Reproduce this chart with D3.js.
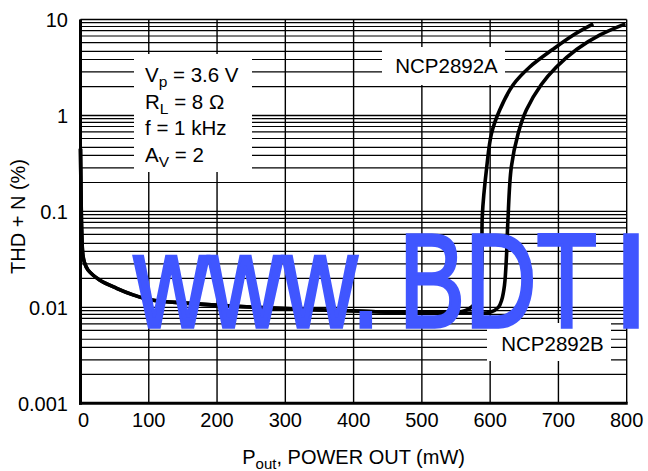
<!DOCTYPE html>
<html>
<head>
<meta charset="utf-8">
<script src="https://cdn.jsdelivr.net/npm/d3@7"></script>
<style>
  html, body { margin: 0; padding: 0; background: #fff; }
  svg { display: block; }
  text { font-family: "Liberation Sans", Arial, Helvetica, sans-serif; fill: #000; }
</style>
</head>
<body>
<svg id="chart" width="648" height="471"></svg>
<script>
// ---- data ----
const xTicks = [0, 100, 200, 300, 400, 500, 600, 700, 800];
const yTicks = [0.001, 0.01, 0.1, 1, 10];
const yTickLabels = ["0.001", "0.01", "0.1", "1", "10"];
const yDecades = [0.001, 0.01, 0.1, 1];
const minorGrid = [2.0, 2.84, 3.83, 4.65, 5.75, 6.73, 7.67, 8.45, 9.26];

// shared low-power part (both devices)
const sharedP   = [0, 0.8, 1.8, 3.5, 6, 11, 28, 53, 77, 102, 160, 258, 356, 453, 522, 545];
const sharedThd = [0.45, 0.15, 0.06, 0.035, 0.029, 0.0245, 0.0193, 0.0158, 0.0135, 0.012, 0.011, 0.0100, 0.0094, 0.0089, 0.0088, 0.0088];
// NCP2892A clipping branch
const aP   = [545, 566, 581, 586, 588, 588.5, 595, 602, 614, 634, 658, 692, 722, 751];
const aThd = [0.0088, 0.0094, 0.0118, 0.016, 0.03, 0.09, 0.29, 0.65, 1.14, 2.1, 3.2, 4.9, 6.9, 9.0];
// NCP2892B clipping branch
const bP   = [545, 600, 612, 617, 621, 624, 626, 631, 641, 653, 675, 697, 727, 761, 798];
const bThd = [0.0088, 0.0089, 0.0100, 0.012, 0.017, 0.035, 0.08, 0.29, 0.65, 1.14, 2.1, 3.2, 4.9, 6.9, 9.0];

const seriesNames = ["NCP2892A", "NCP2892B"];
const conditions = [
  ["V", "p", " = 3.6 V"],
  ["R", "L", " = 8 Ω"],
  ["f = 1 kHz", "", ""],
  ["A", "V", " = 2"]
];
const xTitle = ["P", "out", ", POWER OUT (mW)"];
const yTitle = "THD + N (%)";
const watermark = ["www.", "BDT", "I"];

// ---- layout ----
const svg = d3.select("#chart");
const L = 80.5, R = 626.7, T = 19.5, B = 403.3;
const x = d3.scaleLinear().domain([0, 800]).range([L, R]);
const y = d3.scaleLog().domain([0.001, 10]).range([B, T]);

const grid = svg.append("g");
const minorVals = [];
yDecades.forEach(d => minorGrid.forEach(m => minorVals.push(d * m)));
grid.selectAll("line.hmin").data(minorVals).enter().append("line")
  .attr("x1", L).attr("x2", R)
  .attr("y1", d => y(d)).attr("y2", d => y(d))
  .attr("stroke", "#000").attr("stroke-width", 1.2);
grid.selectAll("line.hmaj").data(yTicks).enter().append("line")
  .attr("x1", L).attr("x2", R)
  .attr("y1", d => y(d)).attr("y2", d => y(d))
  .attr("stroke", "#000").attr("stroke-width", 1.4);
grid.selectAll("line.v").data(xTicks).enter().append("line")
  .attr("x1", d => x(d)).attr("x2", d => x(d))
  .attr("y1", T).attr("y2", B)
  .attr("stroke", "#000").attr("stroke-width", 1.4);
svg.append("line").attr("x1", L).attr("x2", L).attr("y1", T).attr("y2", B + 1.5)
  .attr("stroke", "#000").attr("stroke-width", 3);
svg.append("line").attr("x1", L - 1.5).attr("x2", R + 1).attr("y1", B).attr("y2", B)
  .attr("stroke", "#000").attr("stroke-width", 3);

// tick labels
svg.selectAll("text.yt").data(yTicks).enter().append("text")
  .attr("x", 68).attr("y", d => y(d)).attr("dy", "0.36em")
  .attr("text-anchor", "end").attr("font-size", 20)
  .text((d, i) => yTickLabels[i]);
svg.selectAll("text.xt").data(xTicks).enter().append("text")
  .attr("x", d => x(d) + (d === 0 ? 3 : 0)).attr("y", 427)
  .attr("text-anchor", "middle").attr("font-size", 20)
  .text(d => d);

// axis titles
const xt = svg.append("text").attr("x", (L + R) / 2).attr("y", 463.5)
  .attr("text-anchor", "middle").attr("font-size", 20);
xt.append("tspan").text(xTitle[0]);
xt.append("tspan").attr("font-size", 15).attr("dy", 5).text(xTitle[1]);
xt.append("tspan").attr("dy", -5).text(xTitle[2]);
svg.append("text").attr("transform", "translate(25,216.5) rotate(-90)")
  .attr("text-anchor", "middle").attr("font-size", 20).text(yTitle);

// condition box
svg.append("rect").attr("x", 134).attr("y", 54).attr("width", 118).attr("height", 118).attr("fill", "#fff");
const condY = [82, 108.5, 135, 161.5];
conditions.forEach((c, i) => {
  const t = svg.append("text").attr("x", 145).attr("y", condY[i]).attr("font-size", 20.5);
  t.append("tspan").text(c[0]);
  if (c[1]) {
    t.append("tspan").attr("font-size", 15.5).attr("dy", 5).text(c[1]);
    t.append("tspan").attr("dy", -5).text(c[2]);
  }
});

// series label boxes
svg.append("rect").attr("x", 382).attr("y", 47).attr("width", 123).attr("height", 38).attr("fill", "#fff");
svg.append("text").attr("x", 446.5).attr("y", 73).attr("text-anchor", "middle").attr("font-size", 20.5).text(seriesNames[0]);
svg.append("rect").attr("x", 487).attr("y", 323).attr("width", 124).attr("height", 38).attr("fill", "#fff");
svg.append("text").attr("x", 552.5).attr("y", 350.5).attr("text-anchor", "middle").attr("font-size", 20.5).text(seriesNames[1]);

// curves
const line = d3.line().x(d => x(d[0])).y(d => y(d[1])).curve(d3.curveCatmullRom.alpha(0.5));
const shared = sharedP.map((p, i) => [p, sharedThd[i]]);
const seriesA = shared.concat(aP.slice(1).map((p, i) => [p, aThd[i + 1]]));
const seriesB = shared.concat(bP.slice(1).map((p, i) => [p, bThd[i + 1]]));
[seriesA, seriesB].forEach(s => {
  svg.append("path").attr("d", line(s)).attr("fill", "none")
    .attr("stroke", "#000").attr("stroke-width", 3.6)
    .attr("stroke-linejoin", "round").attr("stroke-linecap", "butt");
});

// watermark
const wm = svg.append("g");
const wmFont = 133;
const wmPieces = [
  { t: watermark[0], x: 134, len: 246 },
  { t: watermark[1], x: 399, len: 198 },
  { t: watermark[2], x: 613, len: 36 }
];
wmPieces.forEach(p => {
  wm.append("text").attr("x", p.x).attr("y", 326.5)
    .attr("font-size", wmFont)
    .attr("textLength", p.len).attr("lengthAdjust", "spacingAndGlyphs")
    .style("fill", "#4056ff").style("stroke", "#4056ff").style("stroke-width", 3.5)
    .style("stroke-linejoin", "miter")
    .text(p.t);
});
</script>
</body>
</html>
